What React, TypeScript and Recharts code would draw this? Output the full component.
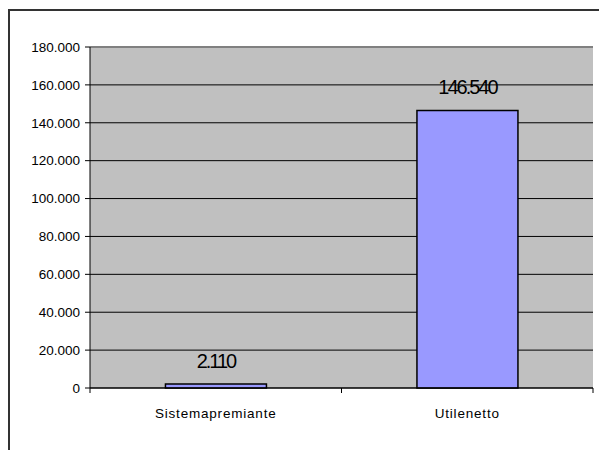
import { BarChart, Bar, XAxis, YAxis, CartesianGrid, LabelList, ReferenceLine } from 'recharts';

const categories = ['Sistemapremiante', 'Utilenetto'];
const values = [2110, 146540];
const yTicks = [0, 20000, 40000, 60000, 80000, 100000, 120000, 140000, 160000, 180000];

const data = categories.map((name, i) => ({ name, value: values[i] }));

const fmt = (v: number) => String(v).replace(/\B(?=(\d{3})+(?!\d))/g, '.');

const font = '"Liberation Sans", Arial, sans-serif';
const TICK_GAP = 20; // tickSize + tickMargin of the category axis

// category label plus the little tick marks on the category edges
function CategoryTick(props: any) {
  const { x, y, payload, index, visibleTicksCount } = props;
  const half = payload.offset || 0;
  const axisY = y - TICK_GAP;
  const isLast = index === visibleTicksCount - 1;
  return (
    <g>
      <line x1={x - half} x2={x - half} y1={axisY} y2={axisY + 5} stroke="#000" />
      {isLast && <line x1={x + half} x2={x + half} y1={axisY} y2={axisY + 5} stroke="#000" />}
      <text
        x={x}
        y={y}
        dy="0.71em"
        textAnchor="middle"
        fill="#000"
        fontSize={13.5}
        fontFamily={font}
        letterSpacing={0.8}
      >
        {payload.value}
      </text>
    </g>
  );
}

export default function App() {
  return (
    <div
      style={{
        width: 600,
        height: 442,
        marginTop: 1,
        borderTop: '2px solid #333',
        borderLeft: '2px solid #333',
        fontFamily: font,
      }}
    >
      <BarChart
        width={597}
        height={440}
        data={data}
        margin={{ top: 36, right: 14, bottom: 33, left: 0 }}
        barCategoryGap="30%"
      >
        <CartesianGrid
          yAxisId="left"
          xAxisId="cat"
          fill="#C0C0C0"
          fillOpacity={1}
          stroke="#000"
          vertical={false}
        />
        <ReferenceLine yAxisId="left" xAxisId="cat" y={180000} stroke="#808080" strokeWidth={2} />
        <XAxis
          xAxisId="cat"
          dataKey="name"
          height={30}
          tickLine={false}
          tickSize={5}
          tickMargin={15}
          axisLine={{ stroke: '#000' }}
          tick={<CategoryTick />}
        />
        <YAxis
          yAxisId="left"
          width={80}
          domain={[0, 180000]}
          ticks={yTicks}
          tickFormatter={fmt}
          tickSize={5}
          tickMargin={5}
          axisLine={{ stroke: '#000' }}
          tickLine={{ stroke: '#000' }}
          tick={{ fill: '#000', fontSize: 13.5, fontFamily: font }}
        />
        <YAxis
          yAxisId="right"
          orientation="right"
          width={0}
          domain={[0, 180000]}
          tick={false}
          tickLine={false}
          axisLine={{ stroke: '#808080', strokeWidth: 2 }}
        />
        <Bar
          xAxisId="cat"
          yAxisId="left"
          dataKey="value"
          fill="#9999FF"
          stroke="#000"
          strokeWidth={1.5}
          isAnimationActive={false}
        >
          <LabelList
            dataKey="value"
            position="top"
            offset={16}
            formatter={(v: any) => fmt(Number(v))}
            style={{ fill: '#000', fontSize: 20, fontFamily: font, letterSpacing: -2 }}
          />
        </Bar>
      </BarChart>
    </div>
  );
}
